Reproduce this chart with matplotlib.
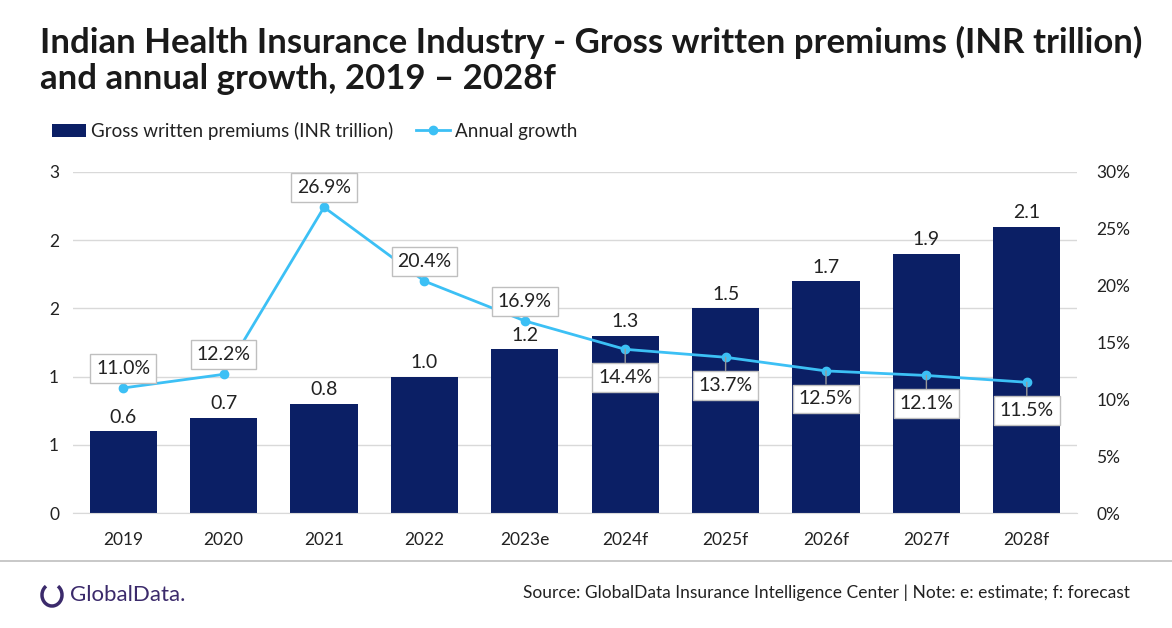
import matplotlib.pyplot as plt
from matplotlib.ticker import FuncFormatter
from matplotlib.patches import Arc

plt.rcParams['font.family'] = ['Lato', 'DejaVu Sans']

years = ['2019', '2020', '2021', '2022', '2023e', '2024f', '2025f', '2026f', '2027f', '2028f']
premiums = [0.6, 0.7, 0.8, 1.0, 1.2, 1.3, 1.5, 1.7, 1.9, 2.1]
growth = [11.0, 12.2, 26.9, 20.4, 16.9, 14.4, 13.7, 12.5, 12.1, 11.5]
label_above = [True, True, True, True, True, False, False, False, False, False]

navy = '#0B1F65'
sky = '#3CC0F5'

fig = plt.figure(figsize=(11.72, 6.28), dpi=100)
ax = fig.add_axes([73 / 1172, 1 - 513 / 628, 1004 / 1172, 341 / 628])
ax2 = ax.twinx()

x = range(len(years))
bars = ax.bar(x, premiums, width=0.67, color=navy, zorder=2, label='Gross written premiums (INR trillion)')
ax.set_xlim(-0.5, len(years) - 0.5)
ax.set_ylim(0, 2.5)
ax.set_yticks([0, 0.5, 1.0, 1.5, 2.0, 2.5])
ax.yaxis.set_major_formatter(FuncFormatter(lambda v, p: '%d' % int(v + 0.5)))
ax.grid(axis='y', color='#D9D9D9', lw=1, zorder=0)
ax.set_axisbelow(True)
for s in ax.spines.values():
    s.set_visible(False)
for s in ax2.spines.values():
    s.set_visible(False)
ax.spines['bottom'].set_visible(True)
ax.spines['bottom'].set_color('#D9D9D9')
ax.tick_params(length=0, labelsize=12.5, colors='#222222', pad=10)
ax.set_xticks(list(x))
ax.set_xticklabels(years)
ax.tick_params(axis='x', pad=14)

for i, v in enumerate(premiums):
    ax.annotate('%.1f' % v, (i, v), xytext=(0, 4), textcoords='offset points',
                ha='center', va='bottom', fontsize=14, color='#222222')

line, = ax2.plot(list(x), growth, color=sky, lw=2, marker='o', ms=6, zorder=3, label='Annual growth')
ax2.set_ylim(0, 30)
ax2.set_yticks(range(0, 31, 5))
ax2.yaxis.set_major_formatter(FuncFormatter(lambda v, p: '%d%%' % v))
ax2.tick_params(length=0, labelsize=12.5, colors='#222222', pad=14)

box = dict(boxstyle='square,pad=0.3', fc='white', ec='#BFBFBF', lw=1)
for i, v in enumerate(growth):
    if label_above[i]:
        ax2.annotate('%.1f%%' % v, (i, v), xytext=(0, 8), textcoords='offset points',
                     ha='center', va='bottom', fontsize=14, color='#222222', bbox=box)
    else:
        ax2.annotate('%.1f%%' % v, (i, v), xytext=(0, -14), textcoords='offset points',
                     ha='center', va='top', fontsize=14, color='#222222', bbox=box,
                     arrowprops=dict(arrowstyle='-', color='#999999', lw=1, shrinkA=0, shrinkB=0))

fig.text(40 / 1172, 1 - 26 / 628, 'Indian Health Insurance Industry - Gross written premiums (INR trillion)\nand annual growth, 2019 \u2013 2028f',
         fontsize=25, fontweight='bold', color='#1A1A1A', va='top', ha='left', linespacing=1.15)

fig.legend(handles=[bars, line], loc='center left', bbox_to_anchor=(35 / 1172, 1 - 131 / 628),
           ncol=2, frameon=False, fontsize=13.5, handlelength=1.8, columnspacing=1.2, handletextpad=0.3,
           labelcolor='#222222')

fig.add_artist(plt.Line2D([0, 1], [1 - 561 / 628, 1 - 561 / 628], color='#BFBFBF', lw=1.2))
# small logo mark
fig.add_artist(Arc((52 / 1172, 1 - 595 / 628), 20 / 1172, 22 / 628, theta1=110, theta2=430,
                   color='#3B2A6B', lw=2.5, transform=fig.transFigure))
fig.text(70 / 1172, 1 - 595 / 628, 'GlobalData.', fontsize=16, color='#3B2A6B', va='center', ha='left')
fig.text(1130 / 1172, 1 - 593 / 628, 'Source: GlobalData Insurance Intelligence Center | Note: e: estimate; f: forecast',
         fontsize=12.5, color='#222222', va='center', ha='right')

fig.savefig('out.png', dpi=100)
